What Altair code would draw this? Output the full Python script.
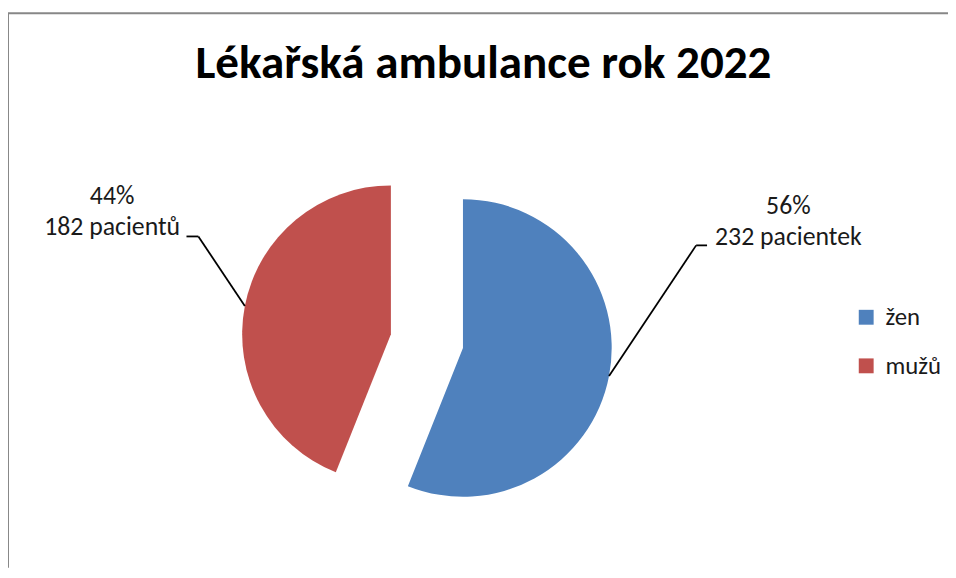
import altair as alt
import pandas as pd

# ---- data ----
categories = ["žen", "mužů"]
patients = [232, 182]
nouns = ["pacientek", "pacientů"]
colors = ["#4F81BD", "#C0504D"]
title_text = ["Lékařská ambulance rok 2022"]

# ---- layout (plot-area pixels) ----
FONT = "Carlito, 'Open Sans', sans-serif"
CX, CY, R, EXPLODE = 422.5, 330.5, 150, 37
label_x = [787, 105]
label_y = [202, 192]
knee_x = [694, 192]
knee_y = [234, 225]
end_x = [705, 180]
W, H = 948, 559

df = pd.DataFrame({
    "cat": categories, "n": patients, "noun": nouns, "order": list(range(len(categories))),
    "lx": label_x, "ly": label_y, "kx": knee_x, "ky": knee_y, "endx": end_x,
})

base = (
    alt.Chart(df)
    .transform_joinaggregate(total="sum(n)")
    .transform_window(cum="sum(n)", sort=[alt.SortField("order")], frame=[None, 0])
    .transform_calculate(
        a0="2*PI*(datum.cum-datum.n)/datum.total",
        a1="2*PI*datum.cum/datum.total",
    )
    .transform_calculate(mid="(datum.a0+datum.a1)/2")
    .transform_calculate(
        cx=f"{CX}+{EXPLODE}*sin(datum.mid)",
        cy=f"{CY}-{EXPLODE}*cos(datum.mid)",
    )
    .transform_calculate(
        ex=f"datum.cx+{R}*sin(datum.mid)",
        ey=f"datum.cy-{R}*cos(datum.mid)",
        label="format(datum.n/datum.total,'.0%') + '|' + datum.n + ' ' + datum.noun",
    )
)

arcs = base.mark_arc(radius=R).encode(
    theta=alt.Theta("a0:Q", scale=None),
    theta2=alt.Theta2("a1"),
    x=alt.X("cx:Q", scale=None, axis=None),
    y=alt.Y("cy:Q", scale=None, axis=None),
    color=alt.Color(
        "cat:N",
        scale=alt.Scale(domain=categories, range=colors),
        legend=alt.Legend(
            title=None, orient="none", legendX=853, legendY=294,
            symbolType="square", symbolSize=225, symbolStrokeWidth=0,
            labelFontSize=25, labelFont=FONT, labelColor="#1a1a1a",
            rowPadding=23, labelOffset=7, padding=0,
        ),
    ),
)

lead1 = base.mark_rule(color="black", strokeWidth=1.8).encode(
    x=alt.X("ex:Q", scale=None, axis=None),
    y=alt.Y("ey:Q", scale=None, axis=None),
    x2=alt.X2("kx"),
    y2=alt.Y2("ky"),
)
lead2 = base.mark_rule(color="black", strokeWidth=1.8).encode(
    x=alt.X("kx:Q", scale=None, axis=None),
    y=alt.Y("ky:Q", scale=None, axis=None),
    x2=alt.X2("endx"),
    y2=alt.Y2("ky"),
)

labels = base.mark_text(
    lineBreak="|", lineHeight=32, align="center", baseline="alphabetic",
    fontSize=26, font=FONT, color="#1a1a1a",
).encode(
    x=alt.X("lx:Q", scale=None, axis=None),
    y=alt.Y("ly:Q", scale=None, axis=None),
    text="label:N",
)

title = alt.Chart(pd.DataFrame({"t": title_text})).mark_text(
    fontSize=47.5, fontWeight="bold", font=FONT, baseline="alphabetic", align="center", color="black"
).encode(text="t:N", x=alt.value(479.5), y=alt.value(65))

border_top = alt.Chart(pd.DataFrame({"k": [0]})).mark_rule(color="#878787", strokeWidth=2).encode(
    x=alt.value(0), x2=alt.value(W), y=alt.value(0)
)
border_left = alt.Chart(pd.DataFrame({"k": [0]})).mark_rule(color="#878787", strokeWidth=2).encode(
    x=alt.value(0), y=alt.value(0), y2=alt.value(H)
)

chart = (
    alt.layer(border_top, border_left, arcs, lead1, lead2, labels, title)
    .properties(
        width=W, height=H, autosize="none",
        padding={"top": 3, "left": 0, "right": 0, "bottom": 0},
    )
    .configure_view(strokeWidth=0)
)

chart.save("out.html", embed_options={"renderer": "svg", "actions": False})
